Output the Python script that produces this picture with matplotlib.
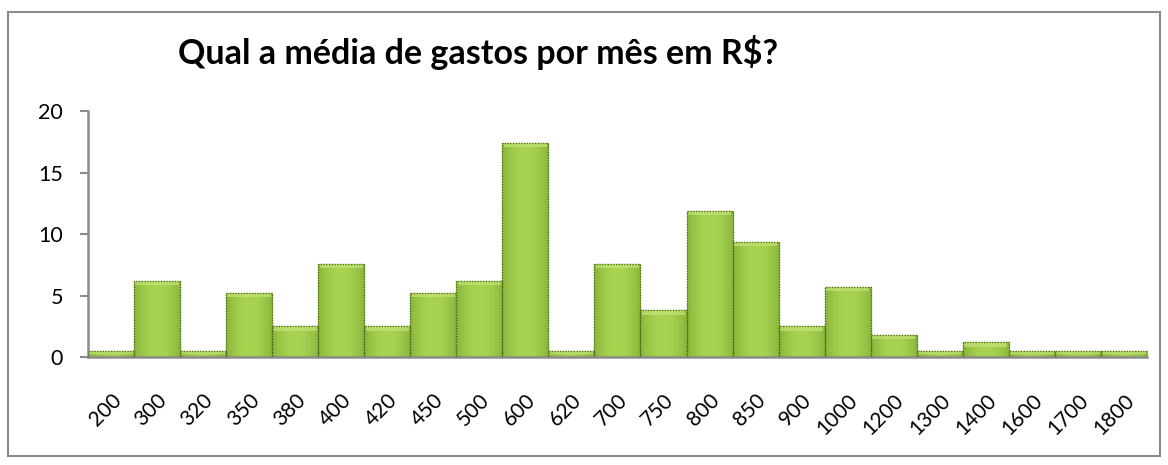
import numpy as np
import matplotlib.pyplot as plt
from matplotlib.patches import Rectangle

# Valores
faixas = ['200', '300', '320', '350', '380', '400', '420', '450', '500', '600', '620',
          '700', '750', '800', '850', '900', '1000', '1200', '1300', '1400', '1600',
          '1700', '1800']
valores = [0.5, 6.2, 0.5, 5.2, 2.5, 7.6, 2.5, 5.2, 6.2, 17.4, 0.5,
           7.6, 3.8, 11.9, 9.4, 2.5, 5.7, 1.8, 0.5, 1.2, 0.5, 0.5, 0.5]
titulo = 'Qual a média de gastos por mês em R$?'

plt.rcParams['font.family'] = ['Lato', 'DejaVu Sans']

fig = plt.figure(figsize=(11.68, 4.65), dpi=100)
ax = fig.add_axes([0.0753, 0.232, 0.9067, 0.529])

x = np.arange(len(faixas))
bars = ax.bar(x, valores, width=1.0, color='#93c23f', edgecolor='#4d6a1c',
              linewidth=0.9, linestyle=(0, (1, 1)), zorder=2)

# horizontal gradient inside each bar (darker edges, lighter centre)
t = np.linspace(0, 1, 64)
shade = 1 - 0.55 * (2 * t - 1) ** 2
base = np.array([0x6f, 0x9a, 0x28]) / 255
light = np.array([0xa8, 0xd4, 0x52]) / 255
grad = base[None, :] + (light - base)[None, :] * shade[:, None]
grad = grad[None, :, :]
for b in bars:
    bx, by = b.get_x(), b.get_y()
    w, h = b.get_width(), b.get_height()
    im = ax.imshow(grad, extent=[bx, bx + w, by, by + h], aspect='auto',
                   zorder=2.5, interpolation='bicubic')
    im.set_clip_path(b)
    # lighter rim at the top
    top = min(0.35, h * 0.5)
    ax.add_patch(Rectangle((bx + 0.03, by + h - top), w - 0.06, top,
                           facecolor='#c4e37a', edgecolor='none', alpha=0.7, zorder=2.6))
    ax.add_patch(Rectangle((bx, by), w, h, facecolor='none', edgecolor='#4d6a1c',
                           linewidth=0.9, linestyle=(0, (1, 1.2)), zorder=3))

ax.set_xlim(-0.5, len(faixas) - 0.5)
ax.set_ylim(0, 20)
ax.set_yticks([0, 5, 10, 15, 20])
ax.set_xticks(x)
ax.set_xticklabels(faixas, rotation=45, ha='right', rotation_mode='anchor', fontsize=15)
ax.tick_params(axis='y', labelsize=15.5, length=6, color='#8c8c8c', width=1.5, pad=12)
ax.tick_params(axis='x', length=0, pad=24)

for s in ['top', 'right']:
    ax.spines[s].set_visible(False)
for s in ['left', 'bottom']:
    ax.spines[s].set_color('#8c8c8c')
    ax.spines[s].set_linewidth(1.8)

fig.text(0.152, 0.888, titulo, fontsize=24.5, fontweight='bold', va='center', ha='left')

# outer chart border
fig.patches.append(Rectangle((0.007, 0.02), 0.986, 0.954, transform=fig.transFigure,
                             fill=False, edgecolor='#8c8c8c', linewidth=1.5))

fig.savefig('out.png', dpi=100)
